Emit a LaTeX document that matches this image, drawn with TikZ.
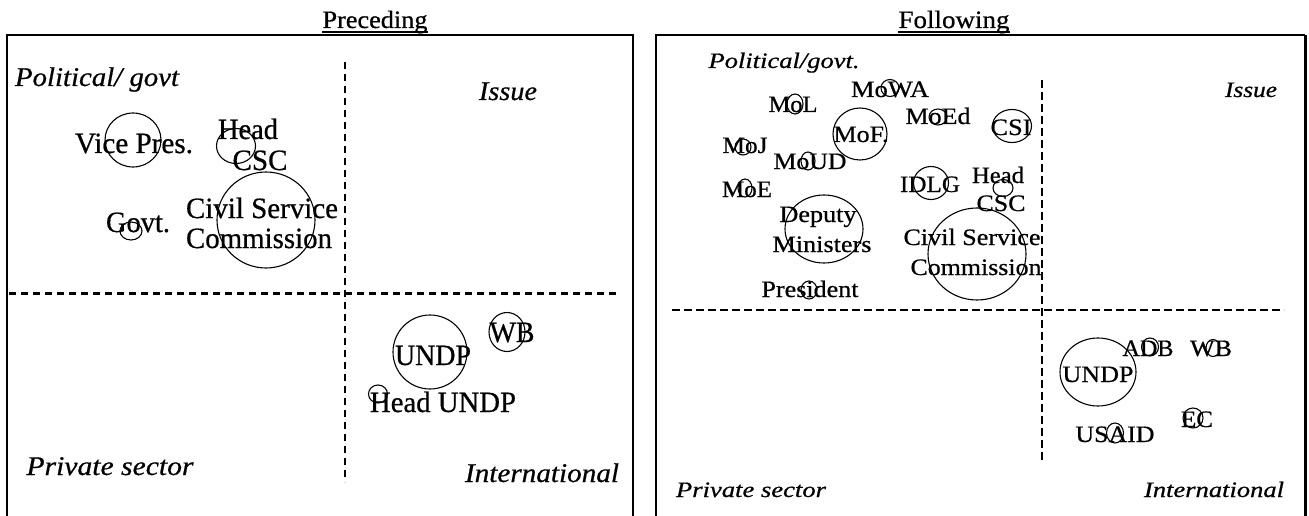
\documentclass[tikz,border=0pt]{standalone}
\usepackage{fontspec}
\setmainfont{Liberation Serif}[FakeBold=0.6]
\usepackage{graphicx}
\usetikzlibrary{shapes.geometric}
\newcommand{\fw}[2]{\resizebox{#1pt}{\height}{#2}}
\tikzset{
  lbl/.style={inner sep=0, anchor=base, font=\fontsize{29.5}{31}\selectfont},
  rlbl/.style={inner sep=0, anchor=base, font=\fontsize{23.5}{25}\selectfont},
  litl/.style={inner sep=0, anchor=base, font=\fontsize{27}{30}\selectfont\itshape},
  ritl/.style={inner sep=0, anchor=base, font=\fontsize{22}{24}\selectfont\itshape},
  ttl/.style={inner sep=0, anchor=base, font=\fontsize{25}{27}\selectfont},
  uline/.style={line width=1.6pt},
  bub/.style={draw, ellipse, inner sep=0, line width=1.1pt},
  frame/.style={line width=2pt},
  dashL/.style={line width=3pt, dash pattern=on 7pt off 5pt},
  dashV/.style={line width=2pt, dash pattern=on 7pt off 5pt},
  dashR/.style={line width=2pt, dash pattern=on 8pt off 4pt},
}
\begin{document}
\begin{tikzpicture}[x=1pt,y=-1pt]
\useasboundingbox (0,0) rectangle (1309,516);
\clip (0,0) rectangle (1309,516);
% frames
\coordinate (LA) at (7,530); \coordinate (LB) at (7,35); \coordinate (LC) at (633,35); \coordinate (LD) at (633,530);
\draw[frame] (LA) -- (LB) -- (LC) -- (LD);
\coordinate (RA) at (656,530); \coordinate (RB) at (656,35); \coordinate (RC) at (1305,35); \coordinate (RD) at (1305,530);
\draw[frame] (RA) -- (RB) -- (RC);
\draw[line width=3pt] (RC) -- (RD);
% dashed axes
\coordinate (lv1) at (345,62); \coordinate (lv2) at (345,482);
\coordinate (lh1) at (9,293); \coordinate (lh2) at (617,293);
\draw[dashV] (lv1) -- (lv2);
\draw[dashL] (lh1) -- (lh2);
\coordinate (rv1) at (1042,80); \coordinate (rv2) at (1042,462);
\coordinate (rh1) at (672,310); \coordinate (rh2) at (1284,310);
\draw[dashR] (rv1) -- (rv2);
\draw[dashR] (rh1) -- (rh2);
% titles
\node[ttl] (tPre) at (375,28) {\fw{105}{Preceding}};
\node[ttl] (tFol) at (954,28) {\fw{111}{Following}};
\draw[uline] ([yshift=-4pt]tPre.base west) -- ([yshift=-4pt]tPre.base east);
\draw[uline] ([yshift=-4pt]tFol.base west) -- ([yshift=-4pt]tFol.base east);
% ---------- left panel ----------
\node[litl] (lPol) at (97,86) {\fw{164}{Political/ govt}};
\node[litl] (lIss) at (508,100) {\fw{58}{Issue}};
\node[litl] (lPri) at (110,475) {\fw{167}{Private sector}};
\node[litl] (lInt) at (542,482) {\fw{154}{International}};
\node[bub, minimum width=56pt, minimum height=54pt] (cVice) at (133,140) {};
\node[bub, minimum width=39pt, minimum height=35pt] (cHead) at (236,146) {};
\node[bub, minimum width=98pt, minimum height=96pt] (cCSC) at (266,220) {};
\node[bub, minimum width=22pt, minimum height=18pt] (cGovt) at (131,231) {};
\node[bub, minimum width=74pt, minimum height=74pt] (cUNDP) at (430,352) {};
\node[bub, minimum width=36pt, minimum height=39pt] (cWB) at (507,332) {};
\node[bub, minimum width=19pt, minimum height=18pt] (cHU) at (378,394) {};
\node[lbl] (tVice) at (134,153) {\fw{118}{Vice Pres.}};
\node[lbl] (tHead) at (248,139) {\fw{60}{Head}};
\node[lbl] (tCSCa) at (260,170) {\fw{55}{CSC}};
\node[lbl] (tCiv) at (262,218) {\fw{152}{Civil Service}};
\node[lbl] (tCom) at (259,248) {\fw{146}{Commission}};
\node[lbl] (tGovt) at (138,232) {\fw{64}{Govt.}};
\node[lbl] (tUNDP) at (433,365) {\fw{76}{UNDP}};
\node[lbl] (tWB) at (512,342) {\fw{45}{WB}};
\node[lbl] (tHU) at (443,412) {\fw{146}{Head UNDP}};
% ---------- right panel ----------
\node[ritl] (rPol) at (784,68) {\fw{151}{Political/govt.}};
\node[ritl] (rIss) at (1251,97) {\fw{52}{Issue}};
\node[ritl] (rPri) at (751,497) {\fw{150}{Private sector}};
\node[ritl] (rInt) at (1214,497) {\fw{140}{International}};
\node[bub, minimum width=18pt, minimum height=17pt] (dMoWA) at (890,88) {};
\node[bub, minimum width=16pt, minimum height=20pt] (dMoL) at (795,104) {};
\node[bub, minimum width=54pt, minimum height=52pt] (dMoF) at (860,134) {};
\node[bub, minimum width=18pt, minimum height=16pt] (dMoEd) at (938,117) {};
\node[bub, minimum width=39pt, minimum height=33pt] (dCSI) at (1012,126) {};
\node[bub, minimum width=16pt, minimum height=16pt] (dMoJ) at (743,147) {};
\node[bub, minimum width=14pt, minimum height=18pt] (dMoUD) at (808,161) {};
\node[bub, minimum width=14pt, minimum height=18pt] (dMoE) at (745,188) {};
\node[bub, minimum width=35pt, minimum height=33pt] (dIDLG) at (931,183) {};
\node[bub, minimum width=20pt, minimum height=17pt] (dHead) at (1003,188) {};
\node[bub, minimum width=78pt, minimum height=68pt] (dDep) at (824,229) {};
\node[bub, minimum width=98pt, minimum height=92pt] (dCSC) at (977,254) {};
\node[bub, minimum width=16pt, minimum height=18pt] (dPres) at (809,290) {};
\node[bub, minimum width=76pt, minimum height=68pt] (dUNDP) at (1098,372) {};
\node[bub, minimum width=17pt, minimum height=18pt] (dADB) at (1150,347) {};
\node[bub, minimum width=14pt, minimum height=17pt] (dWB) at (1213,348) {};
\node[bub, minimum width=20pt, minimum height=20pt] (dEC) at (1193,418) {};
\node[bub, minimum width=17pt, minimum height=20pt] (dUSAID) at (1115,433) {};
\node[rlbl] (sMoWA) at (890,97) {\fw{78}{MoWA}};
\node[rlbl] (sMoL) at (793,112) {\fw{49}{MoL}};
\node[rlbl] (sMoF) at (861,142) {\fw{55}{MoF.}};
\node[rlbl] (sMoEd) at (938,124) {\fw{65}{MoEd}};
\node[rlbl] (sCSI) at (1011,135) {\fw{41}{CSI}};
\node[rlbl] (sMoJ) at (745,153) {\fw{45}{MoJ}};
\node[rlbl] (sMoUD) at (810,169) {\fw{73}{MoUD}};
\node[rlbl] (sMoE) at (747,197) {\fw{50}{MoE}};
\node[rlbl] (sIDLG) at (930,192) {\fw{60}{IDLG}};
\node[rlbl] (sHead) at (998,183) {\fw{52}{Head}};
\node[rlbl] (sCSC) at (1001,211) {\fw{49}{CSC}};
\node[rlbl] (sDep) at (818,222) {\fw{77}{Deputy}};
\node[rlbl] (sMin) at (822,252) {\fw{99}{Ministers}};
\node[rlbl] (sCiv) at (972,245) {\fw{137}{Civil Service}};
\node[rlbl] (sCom) at (976,275) {\fw{131}{Commission}};
\node[rlbl] (sPres) at (810,297) {\fw{97}{President}};
\node[rlbl] (sUNDP) at (1098,382) {\fw{71}{UNDP}};
\node[rlbl] (sADB) at (1148,356) {\fw{51}{ADB}};
\node[rlbl] (sWB) at (1211,356) {\fw{42}{WB}};
\node[rlbl] (sEC) at (1197,427) {\fw{32}{EC}};
\node[rlbl] (sUSAID) at (1115,442) {\fw{79}{USAID}};
\end{tikzpicture}
\end{document}
